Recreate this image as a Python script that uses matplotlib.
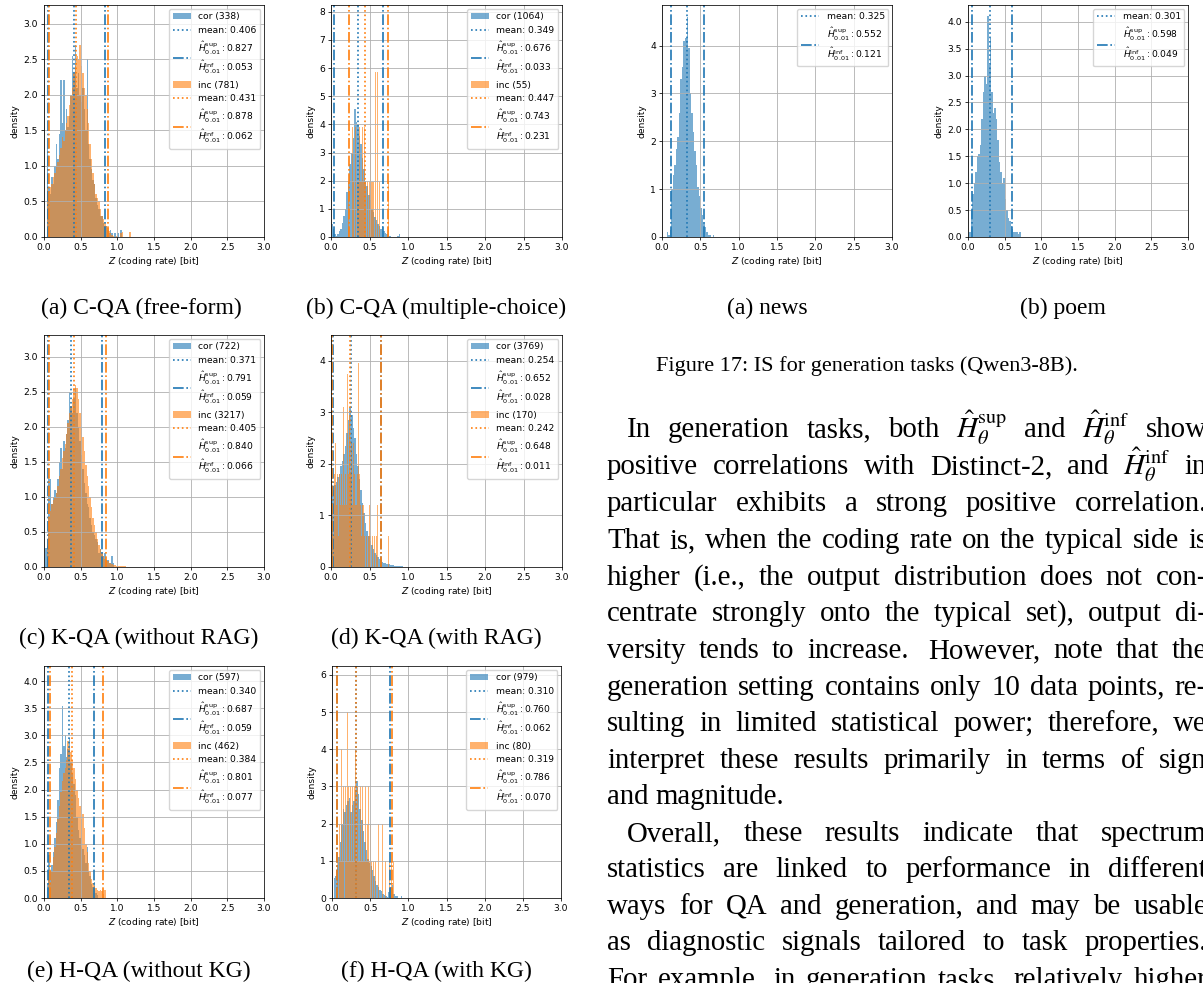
import numpy as np
import matplotlib
matplotlib.use("Agg")
import matplotlib.pyplot as plt
from matplotlib.lines import Line2D
from matplotlib.patches import Patch

W, H = 1203, 983

# ---------------- data (density per bin) ----------------
# (a) C-QA free-form
cqa_free_cor_start, cqa_free_cor_w = 0.04, 0.02
cqa_free_cor = [1.25, 0.70, 0.60, 0.85, 0.75, 1.00, 1.30, 1.10, 1.45, 2.20, 1.60, 2.20, 1.50, 1.80,
                1.55, 1.70, 2.00, 2.55, 2.30, 2.70, 2.10, 2.30, 2.00, 1.90, 2.10, 1.80, 1.50, 2.50,
                1.30, 1.10, 0.95, 0.80, 0.75, 0.55, 0.45, 0.40, 0.30, 0.30, 0.20, 0.15, 0.15, 0.10,
                0.05, 0.10, 0.05, 0.00, 0.05, 0.00, 0.05, 0.00, 0.10]
cqa_free_inc_start, cqa_free_inc_w = 0.04, 0.02
cqa_free_inc = [0.70, 0.55, 0.70, 0.75, 0.85, 0.90, 1.00, 1.05, 1.15, 1.25, 1.40, 1.35, 1.50, 1.60,
                1.70, 1.85, 2.00, 2.10, 2.30, 2.40, 2.55, 2.50, 2.70, 2.40, 2.30, 2.10, 2.00, 1.80,
                1.60, 1.30, 1.10, 0.90, 0.75, 0.60, 0.55, 0.50, 0.40, 0.30, 0.25, 0.20, 0.15, 0.12,
                0.08, 0.05, 0.03, 0.02, 0.00, 0.02, 0.00, 0.00, 0.05, 0.07, 0.00, 0.00, 0.00, 0.00, 0.07]
cqa_free_cor_stats = [338, 0.406, 0.827, 0.053]   # n, mean, sup, inf
cqa_free_inc_stats = [781, 0.431, 0.878, 0.062]

# (b) C-QA multiple-choice
cqa_mc_cor_start, cqa_mc_cor_w = 0.0, 0.02
cqa_mc_cor = [0.45, 0.30, 0.10, 0.05, 0.10, 0.20, 0.30, 0.50, 0.75, 1.00, 1.60, 2.00, 2.60, 3.00,
              3.50, 4.55, 4.10, 4.00, 3.60, 3.30, 2.80, 2.40, 2.00, 1.80, 1.50, 1.30, 1.00, 0.90,
              0.70, 0.60, 0.45, 0.40, 0.30, 0.40, 0.20, 0.15, 0.10, 0.05, 0.05, 0.00, 0.00, 0.00,
              0.00, 0.05, 0.10]
cqa_mc_inc_start, cqa_mc_inc_w = 0.225, 0.0093
cqa_mc_inc = [1.95, 0, 3.9, 0, 0, 3.9, 1.95, 1.95, 0, 1.95, 3.9, 0, 1.95, 5.85, 1.95, 3.9, 0, 1.95,
              1.95, 3.9, 0, 1.95, 3.9, 1.95, 1.95, 0, 1.95, 1.95, 0, 1.95, 3.9, 0, 1.95, 1.95, 0,
              1.95, 0, 5.85, 1.95, 0, 5.85, 1.95, 0, 1.95, 0, 0, 0, 0, 0, 0, 0, 0, 0, 0, 0, 0, 1.95]
cqa_mc_cor_stats = [1064, 0.349, 0.676, 0.033]
cqa_mc_inc_stats = [55, 0.447, 0.743, 0.231]

# generation: news / poem
news_start, news_w = 0.06, 0.02
news = [0.10, 0.05, 0.15, 1.00, 1.30, 1.50, 1.85, 2.10, 2.60, 3.30, 3.55, 4.10, 4.15, 4.60, 3.95,
        3.00, 2.60, 2.20, 1.80, 1.50, 1.05, 0.85, 0.60, 0.45, 0.30, 0.20, 0.10, 0.05, 0.05, 0.00, 0.05]
news_stats = [0.325, 0.552, 0.121]   # mean, sup, inf
poem_start, poem_w = 0.02, 0.02
poem = [0.10, 0.50, 0.80, 1.00, 1.20, 1.50, 1.55, 1.70, 2.20, 2.70, 3.00, 2.85, 4.10, 3.20, 3.70,
        2.70, 2.30, 2.40, 2.20, 1.80, 1.40, 1.20, 1.00, 1.10, 0.70, 0.50, 0.35, 0.30, 0.20, 0.15,
        0.10, 0.10, 0.10, 0.05, 0.10]
poem_stats = [0.301, 0.598, 0.049]

# (c) K-QA without RAG
kqa_norag_cor_start, kqa_norag_cor_w = 0.02, 0.02
kqa_norag_cor = [0.27, 0.30, 1.25, 1.25, 0.90, 1.00, 1.10, 1.05, 1.25, 1.50, 1.70, 1.40, 1.80, 1.70,
                 1.90, 2.10, 2.50, 2.30, 2.20, 2.40, 2.55, 2.20, 2.00, 1.80, 1.60, 1.40, 1.20, 1.05,
                 0.90, 0.85, 0.70, 0.60, 0.50, 0.45, 0.40, 0.35, 0.20, 0.25, 0.20, 0.15, 0.20, 0.10,
                 0.10, 0.05, 0.05, 0.15, 0.05]
kqa_norag_inc_start, kqa_norag_inc_w = 0.04, 0.02
kqa_norag_inc = [0.40, 0.70, 0.80, 0.90, 0.95, 1.00, 1.05, 1.15, 1.30, 1.40, 1.55, 1.65, 1.75, 1.90,
                 2.05, 2.20, 2.30, 2.40, 2.55, 2.60, 2.55, 2.40, 2.20, 2.00, 1.85, 1.65, 1.45, 1.30,
                 1.15, 1.00, 0.85, 0.70, 0.60, 0.50, 0.40, 0.32, 0.25, 0.20, 0.15, 0.12, 0.10, 0.08,
                 0.06, 0.05, 0.04, 0.03, 0.03, 0.02, 0.02, 0.02, 0.01, 0.01, 0.01, 0.01]
kqa_norag_cor_stats = [722, 0.371, 0.791, 0.059]
kqa_norag_inc_stats = [3217, 0.405, 0.840, 0.066]

# (d) K-QA with RAG
kqa_rag_cor_start, kqa_rag_cor_w = 0.0, 0.02
kqa_rag_cor = [1.45, 1.50, 1.60, 1.65, 1.75, 1.80, 1.95, 2.05, 2.20, 2.35, 2.60, 2.85, 3.10, 2.95,
               2.70, 2.50, 2.20, 1.95, 1.70, 1.50, 1.25, 1.05, 0.85, 0.70, 0.60, 0.50, 0.42, 0.35,
               0.28, 0.24, 0.20, 0.16, 0.13, 0.10, 0.08, 0.07, 0.05, 0.05, 0.04, 0.03, 0.03, 0.02,
               0.02, 0.02, 0.01, 0.01, 0.01]
kqa_rag_inc_start, kqa_rag_inc_w = 0.01, 0.01
kqa_rag_inc = [1.2, 1.8, 0.6, 1.8, 2.4, 4.35, 1.2, 1.8, 0.6, 2.4, 1.8, 1.2, 1.8, 1.2, 1.8, 3.1, 1.2,
               1.8, 2.4, 1.2, 3.75, 1.8, 2.4, 2.9, 1.8, 2.4, 1.2, 1.8, 2.4, 1.8, 1.2, 3.75, 1.2, 1.8,
               3.95, 0.6, 1.8, 1.2, 0.6, 1.2, 0.6, 1.2, 0.6, 0.0, 1.2, 0.6, 0.0, 0.6, 1.2, 0.0, 0.6,
               0.0, 0.6, 1.2, 0.0, 0.6, 0.0, 0.0, 0.6, 1.2, 0.0, 0.0, 0.6, 0.0, 0.0, 0.0, 0.0, 0.0,
               0.0, 0.0, 0.0, 0.0, 0.0, 0.6]
kqa_rag_cor_stats = [3769, 0.254, 0.652, 0.028]
kqa_rag_inc_stats = [170, 0.242, 0.648, 0.011]

# (e) H-QA without KG
hqa_nokg_cor_start, hqa_nokg_cor_w = 0.04, 0.02
hqa_nokg_cor = [0.25, 0.80, 0.50, 0.60, 0.85, 1.10, 1.40, 1.80, 2.40, 2.65, 3.55, 2.80, 3.00, 2.60,
                2.75, 2.95, 2.50, 2.30, 2.10, 1.90, 1.50, 1.25, 1.10, 0.95, 0.90, 0.80, 0.65, 0.95,
                0.50, 0.40, 0.25, 0.20, 0.30, 0.10, 0.05]
hqa_nokg_inc_start, hqa_nokg_inc_w = 0.06, 0.02
hqa_nokg_inc = [0.50, 0.30, 0.50, 0.75, 0.95, 1.20, 1.45, 1.70, 1.95, 2.15, 2.30, 2.40, 2.55, 2.90,
                2.80, 2.70, 2.55, 2.40, 2.20, 2.00, 1.85, 1.70, 1.45, 1.55, 1.30, 1.00, 0.85, 0.65,
                0.50, 0.35, 0.28, 0.22, 0.18, 0.15, 0.12, 0.15, 0.12, 0.08, 0.15]
hqa_nokg_cor_stats = [597, 0.340, 0.687, 0.059]
hqa_nokg_inc_stats = [462, 0.384, 0.801, 0.077]

# (f) H-QA with KG
hqa_kg_cor_start, hqa_kg_cor_w = 0.02, 0.02
hqa_kg_cor = [0.55, 0.60, 0.90, 1.10, 1.50, 2.00, 2.40, 2.30, 2.50, 2.60, 2.70, 2.30, 2.50, 2.60,
              2.90, 3.15, 2.80, 2.40, 2.10, 1.80, 1.50, 1.30, 1.05, 0.95, 0.85, 0.75, 0.60, 0.45,
              0.35, 0.30, 0.22, 0.18, 0.12, 0.08, 0.05, 0.03, 0.15, 0.30, 0.35, 0.10, 0.05, 0.05,
              0.00, 0.00, 0.05]
hqa_kg_inc_start, hqa_kg_inc_w = 0.06, 0.0125
hqa_kg_inc = [1, 0, 0, 2, 1, 4, 1, 3, 0, 3, 1, 5, 3, 1, 3, 1, 3, 1, 3, 4, 1, 3, 1, 3, 1, 3, 1, 3, 1,
              1, 3, 1, 2, 3, 1, 2, 1, 0, 1, 0, 1, 0, 0, 2, 0, 1, 0, 0, 2, 0, 0, 1, 0, 0, 0, 1, 0,
              1, 0, 1]
hqa_kg_cor_stats = [979, 0.310, 0.760, 0.062]
hqa_kg_inc_stats = [80, 0.319, 0.786, 0.070]

sub_captions = ["(a) C-QA (free-form)", "(b) C-QA (multiple-choice)", "(a) news", "(b) poem",
                "(c) K-QA (without RAG)", "(d) K-QA (with RAG)",
                "(e) H-QA (without KG)", "(f) H-QA (with KG)"]
fig_caption = "Figure 17: IS for generation tasks (Qwen3-8B)."

HS = r"$\hat{H}_\theta^{\mathrm{sup}}$"
HI = r"$\hat{H}_\theta^{\mathrm{inf}}$"
body_lines = [
    "In generation tasks, both " + HS + " and " + HI + " show",
    "positive correlations with Distinct-2, and " + HI + " in",
    "particular exhibits a strong positive correlation.",
    "That is, when the coding rate on the typical side is",
    "higher (i.e., the output distribution does not con-",
    "centrate strongly onto the typical set), output di-",
    "versity tends to increase.  However, note that the",
    "generation setting contains only 10 data points, re-",
    "sulting in limited statistical power; therefore, we",
    "interpret these results primarily in terms of sign",
    "and magnitude.",
    "Overall, these results indicate that spectrum",
    "statistics are linked to performance in different",
    "ways for QA and generation, and may be usable",
    "as diagnostic signals tailored to task properties.",
    "For example, in generation tasks, relatively higher",
]

# ---------------- drawing ----------------
BLUE, ORANGE = "#1f77b4", "#ff7f0e"
FS = 6.6
LW = 1.2

fig = plt.figure(figsize=(W / 100, H / 100), dpi=100)


def px_axes(x0, y0, x1, y1):
    return fig.add_axes([x0 / W, 1 - y1 / H, (x1 - x0) / W, (y1 - y0) / H])


def hist_series(ax, start, w, heights, color):
    heights = np.asarray(heights, float)
    edges = start + w * np.arange(len(heights) + 1)
    ax.hist(edges[:-1] + w / 2, bins=edges, weights=heights, color=color, alpha=0.6)


def stat_lines(ax, mean, sup, inf, color):
    ax.axvline(mean, color=color, ls=":", lw=LW)
    ax.axvline(sup, color=color, ls="-.", lw=LW)
    ax.axvline(inf, color=color, ls="-.", lw=LW)
    h_mean = Line2D([], [], color=color, ls=":", lw=LW)
    h_h = Line2D([], [], color=color, ls="-.", lw=LW)
    lab_mean = "mean: %.3f" % mean
    lab_h = (r"$\hat{H}^{\mathrm{sup}}_{0.01}: %.3f$" % sup + "\n"
             + r"$\hat{H}^{\mathrm{inf}}_{0.01}: %.3f$" % inf)
    return [h_mean, h_h], [lab_mean, lab_h]


def style(ax, ymax, ystep):
    ax.set_xlim(0, 3.0)
    ax.set_ylim(0, ymax)
    ax.set_xticks(np.arange(0, 3.01, 0.5))
    ax.set_yticks(np.arange(0, ymax + 1e-9, ystep))
    if ystep < 1:
        ax.set_yticklabels(["%.1f" % v for v in np.arange(0, ymax + 1e-9, ystep)])
    ax.grid(True, color="#b0b0b0", lw=0.6)
    ax.tick_params(labelsize=FS, length=2.3, width=0.55, pad=2.0)
    for s in ax.spines.values():
        s.set_linewidth(0.55)
    ax.set_xlabel(r"$Z$ (coding rate) [bit]", fontsize=FS, labelpad=2.5)
    ax.set_ylabel("density", fontsize=FS, labelpad=2.5)


def qa_panel(box, ymax, ystep, cor, inc):
    ax = px_axes(*box)
    handles, labels = [], []
    for (start, w, heights, stats), color, name in zip([cor, inc], [BLUE, ORANGE], ["cor", "inc"]):
        hist_series(ax, start, w, heights, color)
        hh, ll = stat_lines(ax, stats[1], stats[2], stats[3], color)
        handles += [Patch(facecolor=color, alpha=0.6)] + hh
        labels += ["%s (%d)" % (name, stats[0])] + ll
    style(ax, ymax, ystep)
    ax.legend(handles, labels, loc="upper right", fontsize=FS, borderaxespad=0.4)
    return ax


def gen_panel(box, ymax, ystep, start, w, heights, stats):
    ax = px_axes(*box)
    hist_series(ax, start, w, heights, BLUE)
    hh, ll = stat_lines(ax, stats[0], stats[1], stats[2], BLUE)
    style(ax, ymax, ystep)
    ax.legend(hh, ll, loc="upper right", fontsize=FS, borderaxespad=0.4)
    return ax


qa_panel((44, 5, 264, 237), 3.26, 0.5,
         (cqa_free_cor_start, cqa_free_cor_w, cqa_free_cor, cqa_free_cor_stats),
         (cqa_free_inc_start, cqa_free_inc_w, cqa_free_inc, cqa_free_inc_stats))
qa_panel((331, 5, 562, 237), 8.24, 1,
         (cqa_mc_cor_start, cqa_mc_cor_w, cqa_mc_cor, cqa_mc_cor_stats),
         (cqa_mc_inc_start, cqa_mc_inc_w, cqa_mc_inc, cqa_mc_inc_stats))
gen_panel((662, 5, 892, 237), 4.85, 1, news_start, news_w, news, news_stats)
gen_panel((968, 5, 1188, 237), 4.31, 0.5, poem_start, poem_w, poem, poem_stats)
qa_panel((44, 335, 264, 567), 3.31, 0.5,
         (kqa_norag_cor_start, kqa_norag_cor_w, kqa_norag_cor, kqa_norag_cor_stats),
         (kqa_norag_inc_start, kqa_norag_inc_w, kqa_norag_inc, kqa_norag_inc_stats))
qa_panel((331, 335, 562, 567), 4.5, 1,
         (kqa_rag_cor_start, kqa_rag_cor_w, kqa_rag_cor, kqa_rag_cor_stats),
         (kqa_rag_inc_start, kqa_rag_inc_w, kqa_rag_inc, kqa_rag_inc_stats))
qa_panel((44, 666, 264, 898), 4.28, 0.5,
         (hqa_nokg_cor_start, hqa_nokg_cor_w, hqa_nokg_cor, hqa_nokg_cor_stats),
         (hqa_nokg_inc_start, hqa_nokg_inc_w, hqa_nokg_inc, hqa_nokg_inc_stats))
qa_panel((332, 666, 561, 898), 6.24, 1,
         (hqa_kg_cor_start, hqa_kg_cor_w, hqa_kg_cor, hqa_kg_cor_stats),
         (hqa_kg_inc_start, hqa_kg_inc_w, hqa_kg_inc, hqa_kg_inc_stats))

# ---------------- captions and body text ----------------
SERIF = "Liberation Serif"
SUB_FS = 17.0
CAP_FS = 16.0

cap_pos = [(141, 314), (436, 314), (767, 314), (1063, 314),
           (139, 644), (436, 644), (139, 977), (436, 977)]
for txt, (cx, cy) in zip(sub_captions, cap_pos):
    fig.text(cx / W, 1 - cy / H, txt, family=SERIF, fontsize=SUB_FS, ha="center", va="baseline")
fig.text(867 / W, 1 - 371 / H, fig_caption, family=SERIF, fontsize=CAP_FS, ha="center", va="baseline")

renderer = fig.canvas.get_renderer()
LEFT, INDENT, RIGHT = 607, 627, 1207

# size the body font from the tightest line, leaving a little interword stretch
probe = fig.text(0, 0, body_lines[4], family=SERIF, fontsize=20)
BODY_FS = 20 * 0.94 * (RIGHT - 4 - LEFT) / probe.get_window_extent(renderer).width
probe.remove()

baselines = [437, 474, 511, 548, 585, 621, 658, 695, 731, 768, 804, 841, 877, 914, 950, 987]
para_first = {0, 11}
para_last = {10}
for i, (line, yb) in enumerate(zip(body_lines, baselines)):
    words = line.split()
    left = INDENT if i in para_first else LEFT
    ts = [fig.text(0, 0, wd, family=SERIF, fontsize=BODY_FS, math_fontfamily="stix",
                   va="baseline") for wd in words]
    widths = [t.get_window_extent(renderer).width for t in ts]
    # sentence ends get a slightly wider gap, as in TeX
    weights = [1.5 if (wd.endswith(".") and wd != "i.e.,") else 1.0 for wd in words[:-1]]
    if i in para_last or len(words) < 2:
        unit = BODY_FS * 100 / 72 * 0.25
    else:
        unit = (RIGHT - left - sum(widths)) / sum(weights)
    x = left
    for k, (t, wd) in enumerate(zip(ts, widths)):
        t.set_position((x / W, 1 - yb / H))
        if k < len(weights):
            x += wd + unit * weights[k]

fig.savefig("out.png", dpi=100)
